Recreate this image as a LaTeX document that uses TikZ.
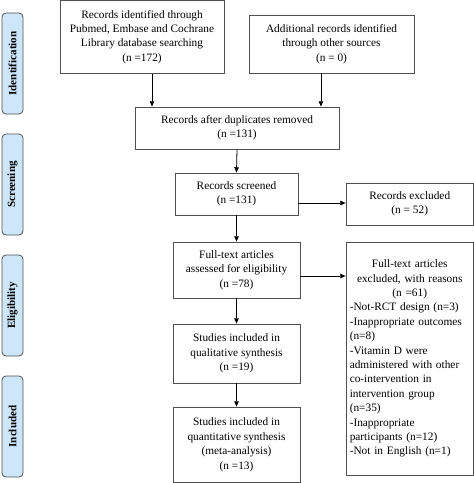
\documentclass[tikz,border=0pt]{standalone}
\usepackage{fontspec}
\setmainfont{Liberation Serif}
\usepackage{tikz}
\usetikzlibrary{arrows.meta}

\definecolor{stagefill}{RGB}{205,230,250}
\definecolor{boxline}{RGB}{80,80,80}

\tikzset{
  box/.style={draw=boxline, line width=0.6pt, fill=white, align=center, inner sep=0pt,
    font=\fontsize{8.5}{10.8}\selectfont},
  stage/.style={draw=boxline, line width=0.6pt, fill=stagefill, rounded corners=3pt,
    rotate=90, minimum width=75.75pt, minimum height=15.75pt, inner sep=0pt,
    font=\fontsize{8.3}{10}\selectfont\bfseries},
  arr/.style={line width=0.6pt, -{Triangle[length=4pt,width=3.4pt]}}
}

\begin{document}
\begin{tikzpicture}[x=0.75pt, y=-0.75pt]
    \useasboundingbox (0,0) rectangle (474,483);

    % stage labels
    \node [stage] (sid) at (12.5, 63.5) {Identification};
    \node [stage] (sscr) at (12.5, 184.5) {Screening};
    \node [stage] (selig) at (12.5, 305.5) {Eligibility};
    \node [stage] (sinc) at (12.5, 426.5) {Included};

    % flow boxes
    \node [box, minimum width=123pt, minimum height=54.75pt] (ident) at (142, 37)
      {Records identified through\\Pubmed, Embase and Cochrane\\Library database searching\\(n =172)};
    \node [box, minimum width=123.75pt, minimum height=43.5pt] (addit) at (331.5, 44)
      {Additional records identified\\through other sources\\(n = 0)};
    \node [box, minimum width=153pt, minimum height=31.5pt] (dup) at (237, 128)
      {Records after duplicates removed\\(n =131)};
    \node [box, minimum width=92.25pt, minimum height=31.5pt] (screen) at (236.5, 194)
      {Records screened\\(n =131)};
    \node [box, minimum width=95.6pt, minimum height=31.5pt] (excl) at (409.75, 204)
      {Records excluded\\(n = 52)};
    \node [box, minimum width=95.25pt, minimum height=42pt] (full) at (236.5, 270)
      {Full-text articles\\assessed for eligibility\\(n =78)};
    \node [box, minimum width=95.6pt, minimum height=174.75pt, text width=90pt,
           font=\fontsize{8.5}{10.8}\selectfont] (fullex) at (409.75, 358.5)
      {{\centering Full-text articles\\excluded, with reasons\\(n =61)\par}
       {\raggedright -Not-RCT design (n=3)\\-Inappropriate outcomes\\(n=8)\\-Vitamin D were\\
        administered with other\\co-intervention in\\intervention group\\(n=35)\\
        -Inappropriate\\participants (n=12)\\-Not in English (n=1)\par}
       \vspace{17pt}};
    \node [box, minimum width=95.25pt, minimum height=44.25pt] (qual) at (236.5, 353.5)
      {Studies included in\\qualitative synthesis\\(n =19)};
    \node [box, minimum width=95.25pt, minimum height=56.6pt] (quant) at (236.5, 444.75)
      {Studies included in\\quantitative synthesis\\(meta-analysis)\\(n =13)};

    % arrows
    \draw [arr] ([xshift=7.5pt]ident.south) -- ([xshift=7.5pt]ident.south |- dup.north);
    \draw [arr] ([xshift=-7.9pt]addit.south) -- ([xshift=-7.9pt]addit.south |- dup.north);
    \draw [arr] (dup.south) -- (screen.north);
    \draw [arr] ([yshift=-6.75pt]screen.east) -- ([yshift=-6.75pt]screen.east -| excl.west);
    \draw [arr] (screen.south) -- (full.north);
    \draw [arr] ([yshift=-4.5pt]full.east) -- ([yshift=-4.5pt]full.east -| fullex.west);
    \draw [arr] (full.south) -- (qual.north);
    \draw [arr] (qual.south) -- (quant.north);
  \end{tikzpicture}
\end{document}
